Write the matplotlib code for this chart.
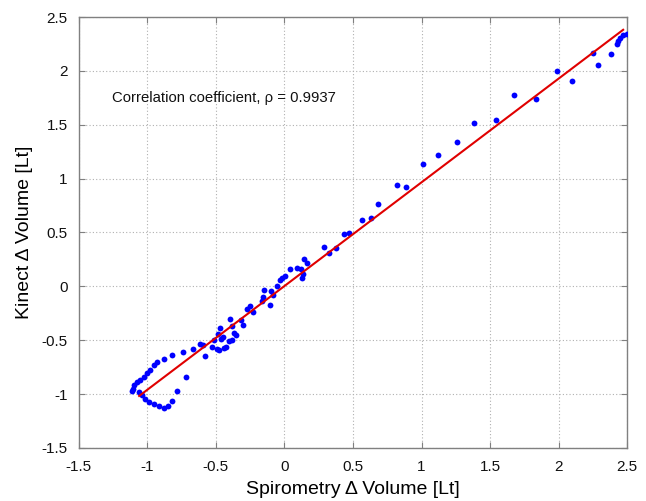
import matplotlib
matplotlib.use("Agg")
import matplotlib.pyplot as plt
import numpy as np

plt.rcParams['font.family'] = ['Liberation Sans', 'DejaVu Sans']

# Spirometry (x) and Kinect (y) volume changes
spiro = [
    # lower-left loop
    -0.929, -0.876, -0.818, -0.742, -0.669, -0.596, -0.954, -0.983, -1.002, -1.027,
    -1.051, -1.075, -1.095, -1.107, -1.112, -1.063, -1.039, -1.015, -0.990, -0.954,
    -0.918, -0.881, -0.852, -0.820, -0.783, -0.715, -0.577,
    # middle
    -0.613, -0.528, -0.443, -0.491, -0.516, -0.407, -0.382, -0.447, -0.487, -0.350,
    -0.370, -0.467, -0.382, -0.394, -0.301, -0.316, -0.228, -0.272, -0.253, -0.102,
    -0.163, -0.156, -0.083, -0.097, -0.151, -0.058, -0.034, -0.017, 0.007, 0.136,
    0.129, 0.039, 0.117, 0.092, 0.161, 0.141, 0.377, 0.328, 0.287, 0.469, 0.433,
    0.628, 0.567, 0.681, -0.460, -0.423, -0.480,
    # upper right
    0.824, 0.887, 1.009, 1.121, 1.258, 1.382, 1.543, 1.677, 1.838, 1.989, 2.097,
    2.250, 2.287, 2.385, 2.423, 2.433, 2.448, 2.472, 2.496,
]
kinect = [
    -0.702, -0.671, -0.634, -0.610, -0.578, -0.541, -0.733, -0.773, -0.804, -0.842,
    -0.866, -0.888, -0.919, -0.950, -0.972, -0.981, -1.012, -1.042, -1.074, -1.095,
    -1.114, -1.126, -1.114, -1.064, -0.972, -0.842, -0.650,
    -0.532, -0.563, -0.569, -0.585, -0.501, -0.507, -0.495, -0.470, -0.439, -0.449,
    -0.433, -0.383, -0.371, -0.300, -0.362, -0.309, -0.238, -0.207, -0.179, -0.170,
    -0.136, -0.099, -0.084, -0.046, -0.037, 0.003, 0.056, 0.077, 0.096, 0.118,
    0.081, 0.158, 0.164, 0.170, 0.217, 0.257, 0.356, 0.313, 0.365, 0.495, 0.483,
    0.637, 0.613, 0.767, -0.486, -0.563, -0.594,
    0.940, 0.919, 1.139, 1.219, 1.339, 1.516, 1.547, 1.779, 1.738, 1.995, 1.909,
    2.169, 2.051, 2.160, 2.252, 2.277, 2.308, 2.329, 2.345,
]

# Fitted regression line (slope, intercept) and its x extent
fit_slope = 0.963
fit_intercept = 0.003
fit_x_range = [-1.06, 2.47]

x_ticks = [-1.5, -1, -0.5, 0, 0.5, 1, 1.5, 2, 2.5]
y_ticks = [-1.5, -1, -0.5, 0, 0.5, 1, 1.5, 2, 2.5]
tick_labels = ['-1.5', '-1', '-0.5', '0', '0.5', '1', '1.5', '2', '2.5']
annotation = 'Correlation coefficient, \u03c1 = 0.9937'

fig = plt.figure(figsize=(6.46, 5.01), dpi=100)
ax = fig.add_axes([0.122, 0.106, 0.849, 0.860])

ax.plot(spiro, kinect, 'o', color='#0000ff', markersize=4.2, markeredgewidth=0, zorder=3)
lx = np.array(fit_x_range)
ax.plot(lx, fit_slope * lx + fit_intercept, color='#e00000', linewidth=1.5, zorder=4)

ax.set_xlim(-1.5, 2.5)
ax.set_ylim(-1.5, 2.5)
ax.set_xticks(x_ticks)
ax.set_yticks(y_ticks)
ax.set_xticklabels(tick_labels)
ax.set_yticklabels(tick_labels)
ax.grid(True, linestyle=(0, (1, 2)), color='#b0b0b0', linewidth=0.8)
ax.set_axisbelow(True)
for s in ax.spines.values():
    s.set_color('#808080')
    s.set_linewidth(1.0)
ax.tick_params(direction='in', top=True, right=True, length=4, color='#808080',
               labelsize=11, labelcolor='#111111')
ax.tick_params(axis='x', pad=9)
ax.tick_params(axis='y', pad=8)

ax.set_xlabel('Spirometry \u0394 Volume [Lt]', fontsize=14, labelpad=5)
ax.set_ylabel('Kinect \u0394 Volume [Lt]', fontsize=14, labelpad=6)

ax.text(-1.26, 1.745, annotation, fontsize=10.7, va='center', ha='left', color='#111111')

fig.savefig('out.png', dpi=100)
